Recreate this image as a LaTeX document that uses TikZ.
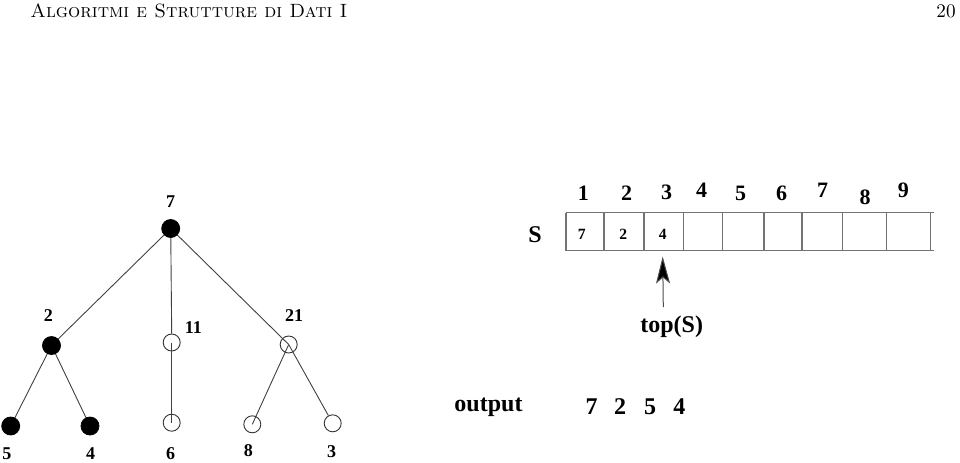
\documentclass[tikz,border=0pt]{standalone}
\usepackage{fontspec}
\newfontfamily\tnr{Liberation Serif}
\usetikzlibrary{arrows.meta}
\begin{document}
\begin{tikzpicture}[x=0.5pt,y=-0.5pt,
  full/.style={circle,fill=black,draw=black,minimum size=9pt,inner sep=0pt},
  hollow/.style={circle,draw=black!80,fill=none,minimum size=8.5pt,inner sep=0pt,line width=0.45pt},
  lab/.style={font=\tnr\bfseries\fontsize{9}{10}\selectfont,inner sep=0pt},
  idx/.style={font=\tnr\bfseries\fontsize{11}{12}\selectfont,inner sep=0pt},
  big/.style={font=\tnr\bfseries\fontsize{12}{14}\selectfont,inner sep=0pt},
  celltxt/.style={font=\tnr\bfseries\fontsize{7.8}{9}\selectfont,inner sep=0pt},
  edge/.style={draw=black!75,line width=0.45pt},
  grid/.style={draw=black!55,line width=0.75pt}]
\useasboundingbox (0,0) rectangle (960,462);
% header
\node[anchor=base west,inner sep=0pt,font=\fontsize{9.6}{12}\selectfont\scshape] (hdr) at (30,17) {Algoritmi e Strutture di Dati I};
\node[anchor=base east,inner sep=0pt,font=\fontsize{9.6}{12}\selectfont] (pg) at (956,17) {20};
% tree
\coordinate (c7) at (170.7,228.5);
\coordinate (c2) at (51.5,345.5);
\coordinate (c11) at (171.7,342.5);
\coordinate (c21) at (288.7,344.5);
\coordinate (c5) at (10.7,426);
\coordinate (c4) at (90,426);
\coordinate (c6) at (171.7,422.7);
\coordinate (c8) at (252.3,424.3);
\coordinate (c3) at (332.7,423.3);
\node[hollow] (n11) at (c11) {};
\node[hollow] (n21) at (c21) {};
\node[hollow] (n6) at (c6) {};
\node[hollow] (n8) at (c8) {};
\node[hollow] (n3) at (c3) {};
\draw[edge] (c7) -- (c2);
\draw[edge] (c7) -- (n11.north);
\draw[edge] (c7) -- (c21);
\draw[edge] (c2) -- (c5);
\draw[edge] (c2) -- (c4);
\draw[edge] (c11) -- (c6);
\draw[edge] (c21) -- (c8);
\draw[edge] (c21) -- (n3);
\node[full] (n7) at (c7) {};
\node[full] (n2) at (c2) {};
\node[full] (n5) at (c5) {};
\node[full] (n4) at (c4) {};
\node[lab] (l7) at (170.7,202) {7};
\node[lab] (l2) at (48.3,316) {2};
\node[lab] (l11) at (193.3,328) {11};
\node[lab] (l21) at (294,316) {21};
\node[lab] (l5) at (7,454) {5};
\node[lab] (l4) at (90.5,454) {4};
\node[lab] (l6) at (170.7,454) {6};
\node[lab] (l8) at (248.3,451) {8};
\node[lab] (l3) at (331.7,452) {3};
% array
\draw[grid] (566,212.7) -- (934,212.7);
\draw[grid] (566,250.7) -- (934,250.7);
\foreach \xx in {566,604,644,683.3,722.7,764,802,842.7,886.7,930.7}
  \draw[grid] (\xx,212.7) -- (\xx,250.7);
\node[celltxt] (v1) at (581.7,234) {7};
\node[celltxt] (v2) at (623.3,234) {2};
\node[celltxt] (v3) at (662.7,234) {4};
\node[big] (S) at (535,235) {S};
\node[idx] (i1) at (583.3,193) {1};
\node[idx] (i2) at (626.7,193) {2};
\node[idx] (i3) at (666.7,192) {3};
\node[idx] (i4) at (701.7,190) {4};
\node[idx] (i5) at (740.7,193) {5};
\node[idx] (i6) at (781.7,193) {6};
\node[idx] (i7) at (822.7,190) {7};
\node[idx] (i8) at (865,197) {8};
\node[idx] (i9) at (903.3,190) {9};
% pointer
\node[big] (top) at (671.7,327) {top(S)};
\coordinate (tail) at (663.3,307);
\coordinate (tip) at (662.7,256.5);
\draw[draw=black!70,line width=0.5pt,-{Stealth[length=13.5pt,width=7pt,inset=3pt,fill=black]}] (tail) -- (tip);
% output
\node[big] (out) at (488.5,407) {output};
\node[big] (o1) at (591.7,407) {7};
\node[big] (o2) at (620,407) {2};
\node[big] (o3) at (650,407) {5};
\node[big] (o4) at (679.3,407) {4};
\end{tikzpicture}
\end{document}
